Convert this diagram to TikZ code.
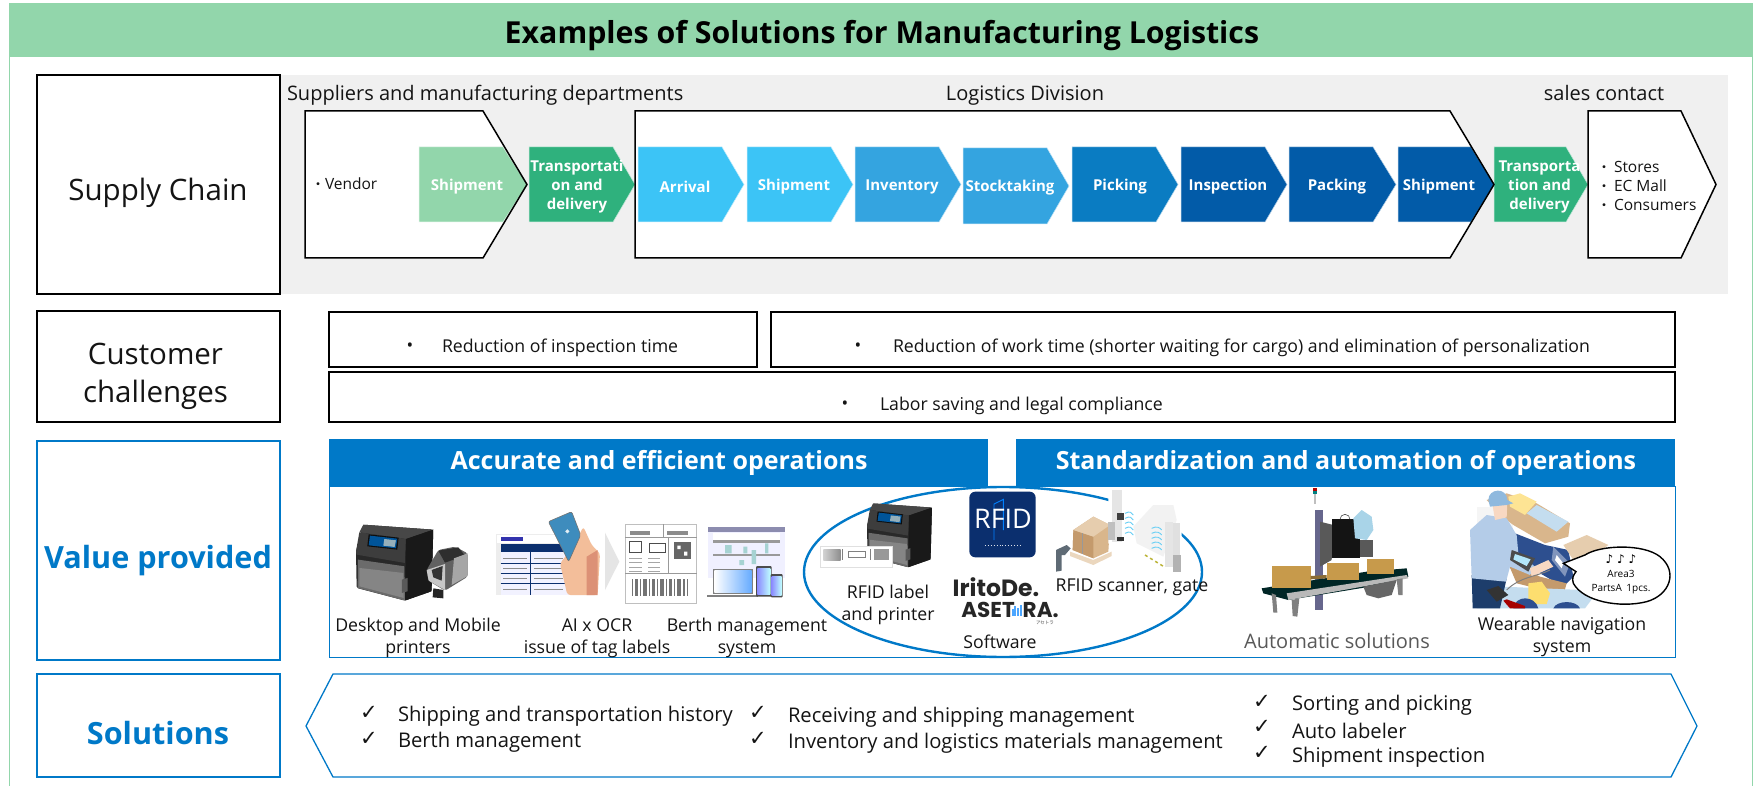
\documentclass[tikz,border=0pt]{standalone}
\usepackage{fontspec}
\setmainfont{Open Sans}
\newfontfamily\symf{DejaVu Sans}
\newfontfamily\logof{Poppins}
\newfontfamily\cjkf{Noto Sans CJK JP}
\usetikzlibrary{shapes.geometric}
\definecolor{bandg}{HTML}{92D6AB}
\definecolor{dkg}{HTML}{2FB17D}
\definecolor{bluea}{HTML}{3CC4F6}
\definecolor{blueb}{HTML}{34A4E0}
\definecolor{bluec}{HTML}{0A7CC2}
\definecolor{blued}{HTML}{025BA8}
\definecolor{mainb}{HTML}{0079C8}
\definecolor{bandgray}{HTML}{F0F0F0}
\definecolor{navyc}{HTML}{0B2F6E}
\definecolor{skinc}{HTML}{F3BE9A}
\definecolor{phoneb}{HTML}{3E8CBD}
\definecolor{carton}{HTML}{D9B68C}
\definecolor{cartond}{HTML}{C49A6C}
\definecolor{cartonl}{HTML}{E6CDAE}
\definecolor{cardb}{HTML}{C79A4B}
\definecolor{shirtc}{HTML}{B4CCE8}
\definecolor{pantsc}{HTML}{1D3D6B}
\definecolor{capc}{HTML}{8FB9DE}
\definecolor{shelfb}{HTML}{2D4F8F}
\definecolor{palebl}{HTML}{C4DDEF}
\definecolor{discc}{HTML}{A9D4E8}
\definecolor{scanc}{HTML}{5F6B75}
\newcommand\fsz[2]{\fontsize{#1}{#2}\selectfont}
\tikzset{
 txt/.style={inner sep=0pt,outer sep=0pt,align=center,text=black!92},
 lbl/.style={txt,font=\fsz{17.7}{22.5}},
 big/.style={txt,font=\fsz{29.5}{38}},
 bigb/.style={txt,font=\fsz{30.6}{38}\bfseries,text=mainb},
 chev/.style={txt,font=\fsz{15}{19}\bfseries,text=white},
 sol/.style={txt,font=\fsz{20.2}{24},anchor=west},
 chk/.style={txt,font=\fsz{21}{24}\symf,anchor=west},
 box/.style={draw=black,line width=1.4pt,fill=white},
 bbox/.style={draw=mainb,line width=1.2pt,fill=white},
 arrowline/.style={draw=black,line width=1.5pt,line join=miter},
 chevf/.style={draw=white!70!#1,line width=.5pt},
}
\newcommand\kdot{{\cjkf\fsz{14}{19}・}}
\newcommand\chv[6]{\path[fill=#6,chevf=#6] (#1,#2)--(#4,#2)--(#5,{(#2+#3)/2})--(#4,#3)--(#1,#3)--cycle;}
\newcommand\deskprinter[3]{\begin{scope}[shift={(#1,#2)},scale=#3]
 \fill[black!84,rounded corners=1.5pt] (22,5)--(232,20)--(227,205)--(147,233)--(2,195)--(0,85)--cycle;
 \fill[black!72] (22,5)--(232,20)--(150,48)--(10,28)--cycle;
 \fill[black!76] (10,28)--(150,48)--(147,120)--(2,95)--(0,85)--cycle;
 \fill[black!90] (150,48)--(232,20)--(227,205)--(147,233)--cycle;
 \fill[black!58] (6,110)--(145,130)--(147,233)--(5,195)--cycle;
 \fill[black!48] (10,135)--(142,150)--(143,225)--(10,190)--cycle;
 \fill[black!95] (38,34)--(128,44)--(124,80)--(34,70)--cycle;
 \fill[blue!45!cyan!60!black] (42,38)--(124,47)--(120,76)--(38,67)--cycle;
 \fill[cyan!30!white!70!black] (85,48)--(120,52)--(116,72)--(82,68)--cycle;
 \fill[black!65] (138,170)--(155,165)--(155,205)--(138,210)--cycle;
\end{scope}}
\begin{document}
\begin{tikzpicture}[x=1pt,y=-1pt,line cap=butt]
\useasboundingbox (0,0) rectangle (1759,786);
\fill[white] (0,0) rectangle (1759,786);
\draw[bandg,line width=1.2pt] (9.6,50)--(9.6,786) (1752.6,50)--(1752.6,786);
\fill[bandg] (9,3.5) rectangle (1753,57);
\node[txt,font=\fsz{30.3}{36}\bfseries,text=black] (title) at (882,35.5) {Examples of Solutions for Manufacturing Logistics};
\fill[bandgray] (280,75) rectangle (1728,294);
\node[box,minimum width=243pt,minimum height=219pt,inner sep=0pt] (bsc) at (158.5,184.5) {};
\node[big] (tsc) at (158,193) {Supply Chain};
\node[box,minimum width=243pt,minimum height=111pt,inner sep=0pt] (bcc) at (158.5,366.5) {};
\node[big] (tcc) at (155.5,376) {Customer\\challenges};
\node[bbox,minimum width=243pt,minimum height=219pt,inner sep=0pt] (bvp) at (158.5,550.5) {};
\node[bigb] (tvp) at (158,561) {Value provided};
\node[bbox,minimum width=243pt,minimum height=103pt,inner sep=0pt] (bso) at (158.5,725.5) {};
\node[bigb] (tso) at (158,733) {Solutions};
\node[txt,font=\fsz{20}{24},anchor=west] (h1) at (287,95) {Suppliers and manufacturing departments};
\node[txt,font=\fsz{20}{24}] (h2) at (1025,96) {Logistics Division};
\node[txt,font=\fsz{20}{24}] (h3) at (1604,93) {sales contact};
\path[fill=white] (305,111)--(483,111)--(527,184.5)--(483,258)--(305,258)--cycle;
\path[fill=white] (635,111)--(1450,111)--(1494,184.5)--(1450,258)--(635,258)--cycle;
\path[fill=white] (1588,111)--(1681,111)--(1716,184.5)--(1681,258)--(1588,258)--cycle;
\chv{419}{147}{222}{503}{527}{bandg}
\chv{529}{147}{222}{613}{635}{dkg}
\chv{638}{147}{222}{722}{744}{bluea}
\chv{747}{147}{222}{831}{853}{bluea}
\chv{855}{147}{222}{939}{961}{blueb}
\chv{963}{148}{224}{1047}{1069}{blueb}
\chv{1072}{147}{222}{1156}{1178}{bluec}
\chv{1181}{147}{222}{1265}{1287}{blued}
\chv{1289}{147}{222}{1373}{1396}{blued}
\chv{1398}{147}{222}{1471}{1494}{blued}
\chv{1494}{147}{222}{1566}{1588}{dkg}
\draw[arrowline] (305,111)--(483,111)--(527,184.5)--(483,258)--(305,258)--cycle;
\draw[arrowline] (635,111)--(1450,111)--(1494,184.5)--(1450,258)--(635,258)--cycle;
\draw[arrowline] (1588,111)--(1681,111)--(1716,184.5)--(1681,258)--(1588,258)--cycle;
\node[chev] (c1) at (467,187) {Shipment};
\node[chev] (c2) at (577,187) {Transportati\\on and\\delivery};
\node[chev] (c3) at (685,187) {Arrival};
\node[chev] (c4) at (794,187) {Shipment};
\node[chev] (c5) at (902,187) {Inventory};
\node[chev] (c6) at (1010,188) {Stocktaking};
\node[chev] (c7) at (1120,187) {Picking};
\node[chev] (c8) at (1228,187) {Inspection};
\node[chev] (c9) at (1337,187) {Packing};
\node[chev] (c10) at (1439,187) {Shipment};
\node[chev] (c11) at (1539.5,187) {Transporta\\tion and\\delivery};
\node[txt,font=\fsz{15.5}{19},anchor=west] (vend) at (311,184) {\kdot Vendor};
\node[txt,font=\fsz{15.5}{19},anchor=west,align=left] (stores) at (1597,186) {\kdot\hspace{3pt}Stores\\\kdot\hspace{3pt}EC Mall\\\kdot\hspace{3pt}Consumers};
\node[box,line width=1.2pt,minimum width=428pt,minimum height=55pt,inner sep=0pt] (cb1) at (543,339.5) {};
\node[box,line width=1.2pt,minimum width=904pt,minimum height=55pt,inner sep=0pt] (cb2) at (1223,339.5) {};
\node[box,line width=1.2pt,minimum width=1346pt,minimum height=50pt,inner sep=0pt] (cb3) at (1002,397) {};
\node[lbl] (b1) at (410,347.5) {•};
\node[lbl,anchor=west] (t1) at (442,347.5) {Reduction of inspection time};
\node[lbl] (b2) at (858,347.5) {•};
\node[lbl,anchor=west] (t2) at (893,347.5) {Reduction of work time (shorter waiting for cargo) and elimination of personalization};
\node[lbl] (b3) at (845,405.5) {•};
\node[lbl,anchor=west] (t3) at (880,405.5) {Labor saving and legal compliance};
\draw[mainb,line width=1pt,fill=white] (329,486) rectangle (1675,657);
\node[fill=mainb,minimum width=659pt,minimum height=47pt,inner sep=0pt] (hl) at (658.5,462.5) {};
\node[fill=mainb,minimum width=659pt,minimum height=47pt,inner sep=0pt] (hr) at (1345.5,462.5) {};
\node[txt,font=\fsz{25}{30}\bfseries,text=white] (thl) at (659,462.5) {Accurate and efficient operations};
\node[txt,font=\fsz{25}{30}\bfseries,text=white] (thr) at (1346,462.5) {Standardization and automation of operations};
\node[draw=mainb,line width=2.4pt,ellipse,minimum width=398pt,minimum height=170pt,inner sep=0pt] (ell) at (1003,572) {};
\deskprinter{356}{523}{0.333}
\begin{scope}[shift={(330,490)},scale=1/3]
 % mobile printer
 \fill[black!62,rounded corners=2pt] (290,240)--(325,180)--(375,170)--(413,190)--(413,260)--(345,302)--(295,272)--cycle;
 \fill[black!82] (325,182)--(385,172)--(405,197)--(345,218)--cycle;
 \fill[black!35] (372,205)--(413,190)--(413,258)--(365,285)--cycle;
 \fill[black!22] (290,240)--(345,222)--(345,300)--(296,272)--cycle;
 \fill[black!80] (305,240)--(338,228)--(335,272)--(310,262)--cycle;
 \fill[black!85] (310,295)--(340,300)--(340,325)--(308,322)--cycle;
 % document with table
 \fill[black!7] (498,133) rectangle (745,315);
 \fill[white] (500,135) rectangle (743,160);
 \fill[blue!60!black!80] (512,141) rectangle (578,154);
 \fill[navyc] (512,163) rectangle (725,185);
 \fill[blue!5] (512,185) rectangle (725,315);
 \foreach \yy in {220,250,280} {\draw[navyc,line width=.5pt] (512,\yy)--(725,\yy);}
 \draw[navyc,line width=.5pt] (600,163)--(600,315);
 \foreach \yy in {205,235,265,298} {\draw[black!45,line width=1pt] (520,\yy)--(590,\yy) (612,\yy)--(700,\yy);}
 % hand and phone
 \fill[skinc,rounded corners=3pt] (803,315)--(810,190)--(785,165)--(760,110)--(730,170)--(690,220)--(712,315)--cycle;
 \fill[skinc!85!red!90!black] (770,200)--(803,180)--(803,315)--(770,315)--cycle;
 \fill[phoneb,draw=black!55,line width=.6pt,rounded corners=2pt] (655,95)--(725,65)--(752,135)--(716,215)--cycle;
 \draw[white!85!phoneb,line width=1.3pt] (712,124) circle (3.6pt);
 \fill[black!10] (825,128)--(868,215)--(825,300)--cycle;
 % tag label
 \draw[black!25,fill=white,line width=.7pt] (885,103) rectangle (1100,340);
 \draw[black!40,line width=.6pt] (885,142)--(1100,142) (1000,103)--(1000,142) (885,250)--(1100,250) (1015,142)--(1015,250);
 \fill[black!45] (900,124) rectangle (960,134);
 \fill[black!45] (1012,124) rectangle (1075,134);
 \draw[black!70,line width=.8pt] (898,155) rectangle (935,187);
 \draw[black!70,line width=.8pt] (958,160) rectangle (1005,187);
 \fill[black!60] (1032,157) rectangle (1082,208);
 \fill[white] (1042,167) rectangle (1052,177) (1062,185) rectangle (1072,197);
 \foreach \yy in {205,218,232,243} {\draw[black!35,line width=1pt] (898,\yy)--(935,\yy) (955,\yy)--(990,\yy);}
 \foreach \xx/\ww in {905/5,915/9,930/4,938/12,956/5,966/8,980/4,990/11,1007/5,1017/9,1032/4,1040/12,1058/7,1070/5} {\fill[black!55] (\xx,268) rectangle ++(\ww,50);}
 % berth system
 \fill[blue!6] (1135,112) rectangle (1365,265);
 \fill[blue!30!black!45] (1135,112) rectangle (1365,125);
 \fill[white] (1150,128) rectangle (1350,150);
 \fill[black!40] (1150,150) rectangle (1350,158);
 \fill[black!40] (1150,192) rectangle (1350,198);
 \fill[teal!35] (1185,165) rectangle (1205,190) (1240,170) rectangle (1252,190) (1265,180) rectangle (1278,222) (1305,160) rectangle (1315,190) (1228,210) rectangle (1242,225);
 \fill[black!50] (1148,237) rectangle (1270,312);
 \shade[left color=white,right color=cyan!45!blue!60] (1153,241) rectangle (1265,308);
 \fill[black!50] (1132,315) rectangle (1285,322);
 \fill[black!70,rounded corners=1pt] (1278,228) rectangle (1325,320);
 \shade[left color=blue!45,right color=cyan!25] (1282,236) rectangle (1321,312);
 \fill[black!70,rounded corners=1pt] (1322,252) rectangle (1358,322);
 \shade[left color=blue!45,right color=cyan!25] (1325,260) rectangle (1355,315);
\end{scope}
\node[lbl] (l1) at (418,638) {Desktop and Mobile\\printers};
\node[lbl] (l2) at (597,638) {AI x OCR\\issue of tag labels};
\node[lbl] (l3) at (747,638) {Berth management\\system};
\deskprinter{867}{502}{0.28}
\begin{scope}[shift={(800,480)},scale=1/3]
 \draw[black!12,fill=white,line width=.6pt] (62,200) rectangle (277,262);
 \shade[left color=black!18,right color=black!45] (70,208) rectangle (122,240);
 \fill[black!40] (222,208) rectangle (268,240);
 \draw[black!50,line width=.8pt] (128,208)--(128,240) (210,208)--(210,240) (145,215) rectangle (195,232);
 \fill[navyc,rounded corners=6pt] (508,35) rectangle (707,232);
 \draw[blue!50!cyan,line width=.9pt] (582,180)--(582,72)--(610,58)--(610,150);
 \draw[white!85!navyc,line width=.9pt,dotted] (555,197)--(660,197);
 % pallet and boxes
 \fill[carton] (820,150)--(880,110)--(930,135)--(925,215)--(880,235)--(818,210)--cycle;
 \fill[cartond] (820,150)--(880,170)--(880,235)--(818,210)--cycle;
 \fill[cartonl] (820,150)--(880,110)--(930,135)--(880,170)--cycle;
 \draw[black!40,line width=.5pt] (848,160)--(848,222);
 \fill[cartonl!80!white] (810,215)--(880,240)--(935,215)--(935,228)--(880,255)--(810,228)--cycle;
 % scanner
 \fill[scanc] (768,210)--(800,195)--(812,205)--(795,225)--(785,225)--(785,272)--(768,275)--cycle;
 % gate (white backing interrupts the ellipse)
 \fill[white] (925,30)--(970,30)--(1080,65)--(1145,120)--(1145,280)--(1050,260)--(925,190)--cycle;
 \fill[black!5] (1000,140)--(1060,75)--(1120,75)--(1130,120)--(1090,230)--(1010,190)--cycle;
 \fill[black!10] (935,30) rectangle (965,185);
 \fill[black!25] (925,125) rectangle (945,180);
 \fill[black!75] (950,100) rectangle (973,120);
 \fill[black!80] (950,172) rectangle (972,182);
 \fill[black!10] (1095,125) rectangle (1118,260);
 \fill[black!30] (1118,225) rectangle (1142,275);
 \fill[black!12] (1118,130) rectangle (1140,225);
 \foreach \yy in {100,115,130,145,160} {\draw[cyan!60,line width=.9pt] (975,\yy) .. controls (990,\yy-8) and (995,\yy-2) .. (1000,\yy+5);}
 \foreach \yy in {145,160,175,190,205} {\draw[cyan!60,line width=.9pt] (1055,\yy) .. controls (1070,\yy-8) and (1080,\yy-2) .. (1085,\yy+5);}
 \draw[yellow!70!black,line width=1.5pt,dashed] (1035,225)--(1095,262);
\end{scope}
\node[txt,font=\fsz{27}{30},text=white] (rfidlogo) at (1003,519) {RFID};
\node[txt,font=\fsz{23.5}{26}\logof\bfseries,text=black!85] (irito) at (996,587) {IritoDe.};
\node[txt,font=\fsz{21.5}{24}\logof\bfseries,text=black!85] (aset) at (1010,610) {ASET\hspace{8pt}RA.};
\node[txt,font=\fsz{4.5}{5}\cjkf,text=black!70] (asetk) at (1045,623) {アセトラ};
\begin{scope}[shift={(800,480)},scale=1/3]
 \foreach \xx/\hh in {635/20,643/28,651/22,659/32} {\fill[blue!50!cyan!70] (\xx,407) rectangle ++(6,-\hh);}
\end{scope}
\node[lbl] (l4) at (888,605) {RFID label\\and printer};
\node[lbl] (l5) at (1000,642) {Software};
\node[lbl] (l6) at (1132,587) {RFID scanner, gate};
% automatic solution
\begin{scope}[shift={(1220,480)},scale=1/3]
 \fill[black!25] (283,42) rectangle (289,72);
 \fill[red!70!black] (280,25) rectangle (292,33);
 \fill[teal] (280,33) rectangle (292,42);
 \fill[black!75!blue!60] (285,90) rectangle (310,390);
 \fill[black!65] (300,125)--(340,135)--(335,240)--(300,260)--cycle;
 \fill[black!65] (395,180) rectangle (458,232);
 \fill[black!92] (335,118) rectangle (420,235);
 \fill[discc] (400,115)--(425,90)--(455,110)--(460,150)--(440,180)--(405,175)--cycle;
 \draw[black!70,line width=.6pt] (360,118) arc (180:0:15pt);
 \fill[black!70!teal] (125,325)--(440,275)--(560,265)--(565,290)--(450,320)--(205,360)--(130,340)--cycle;
 \fill[gray!55] (200,340)--(560,285)--(565,295)--(205,360)--cycle;
 \fill[black!60] (430,320)--(530,300)--(515,345)--(475,355)--(440,345)--cycle;
 \fill[gray] (155,340) -- (168,345)--(172,398)--(160,398)--cycle;
 \fill[gray] (215,360)--(238,355)--(232,410)--(218,408)--cycle;
 \fill[gray] (530,298)--(548,295)--(548,345)--(535,345)--cycle;
 \fill[cardb] (155,258) rectangle (272,325);
 \fill[cardb] (320,248) rectangle (418,300);
 \fill[cardb] (440,237) rectangle (522,283);
 \fill[black!30!cardb] (272,288)--(320,285)--(320,295)--(272,298)--cycle;
\end{scope}
\node[txt,font=\fsz{20}{24},text=black!65] (l7) at (1337,641) {Automatic solutions};
% worker scene
\begin{scope}[shift={(1220,480)},scale=1/3]
 \fill[black!4] (770,80) rectangle (880,160);
 \fill[carton] (800,60)--(860,40)--(950,70)--(1050,130)--(1045,170)--(975,190)--(880,135)--(860,120)--cycle;
 \fill[yellow!55!orange!40] (865,50)--(900,40)--(950,65)--(915,105)--(870,80)--cycle;
 \fill[palebl] (920,100)--(950,75)--(1045,125)--(1010,155)--cycle;
 \fill[shelfb] (885,160)--(975,195)--(1045,210)--(1060,290)--(1030,320)--(890,240)--cycle;
 \fill[cartond] (860,240)--(960,290)--(1040,310)--(1030,345)--(890,310)--cycle;
 \fill[cartonl] (1030,195)--(1100,165)--(1165,195)--(1120,230)--(1060,240)--cycle;
 \fill[palebl] (850,320)--(1085,330)--(1125,345)--(1095,385)--(770,385)--cycle;
 \fill[yellow!60!orange!55] (925,310)--(965,305)--(990,340)--(980,372)--(925,372)--cycle;
 \fill[shelfb] (880,385) .. controls (885,345) and (945,345) .. (955,385)--cycle;
 \fill[shelfb] (1000,385) .. controls (1010,360) and (1070,360) .. (1080,385)--cycle;
 \fill[shelfb!60!white] (1000,200)--(1050,250)--(1035,290)--(995,240)--cycle;
 \fill[white] (1010,225)--(1030,250)--(1025,265)--(1005,240)--cycle;
 % person
 \fill[pantsc] (755,285)--(860,295)--(840,385)--(758,385)--cycle;
 \fill[shirtc] (750,150)--(800,105)--(860,115)--(890,165)--(895,220)--(945,260)--(930,285)--(870,260)--(858,305)--(755,295)--cycle;
 \fill[skinc!60!white] (815,60)--(862,65)--(860,112)--(825,120)--cycle;
 \fill[capc] (805,60) .. controls (805,25) and (860,20) .. (862,60) -- (880,70)--(860,75)--(810,80)--cycle;
 \fill[black!70] (875,210)--(945,235)--(925,275)--(870,240)--cycle;
 \fill[cyan!30!white] (885,222)--(932,238)--(920,258)--(880,238)--cycle;
 \fill[skinc!60!white] (930,265)--(985,240)--(1000,260)--(935,290)--cycle;
 \fill[black!80] (800,330)--(835,318)--(865,345)--(830,365)--cycle;
 \fill[red!65!black] (850,362)--(860,358)--(915,378)--(915,385)--(870,385)--cycle;
 \draw[black!50,line width=1pt] (860,330) .. controls (900,290) and (950,290) .. (990,270);
 \draw[black,line width=1.4pt,fill=white] (1095,225) .. controls (1140,195) and (1270,190) .. (1320,230) .. controls (1375,275) and (1350,345) .. (1280,365) .. controls (1200,385) and (1090,365) .. (1060,310) .. controls (1055,295) and (1060,285) .. (1068,275) -- (1030,250) -- cycle;
\end{scope}
\node[txt,font=\fsz{12}{14}\symf,text=black] (notes) at (1621,559) {♪ ♪ ♪};
\node[txt,font=\fsz{10}{13.5},text=black] (area) at (1621,582) {Area3\\PartsA\hspace{2pt} 1pcs.};
\node[lbl] (l8) at (1562,637) {Wearable navigation\\system};
\path[bbox,line width=1.3pt] (306,726)--(333,674)--(1671,674)--(1697,726)--(1671,777)--(333,777)--cycle;
\node[chk] (k1) at (360,713) {✓};
\node[chk] (k2) at (360,739) {✓};
\node[sol] (s1) at (398,716) {Shipping and transportation history};
\node[sol] (s2) at (398,742) {Berth management};
\node[chk] (k3) at (749,713) {✓};
\node[chk] (k4) at (749,739) {✓};
\node[sol] (s3) at (788,717) {Receiving and shipping management};
\node[sol] (s4) at (788,743) {Inventory and logistics materials management};
\node[chk] (k5) at (1253,702) {✓};
\node[chk] (k6) at (1253,727) {✓};
\node[chk] (k7) at (1253,753) {✓};
\node[sol] (s5) at (1292,705) {Sorting and picking};
\node[sol] (s6) at (1292,731) {Auto labeler};
\node[sol] (s7) at (1292,757) {Shipment inspection};
\end{tikzpicture}
\end{document}
